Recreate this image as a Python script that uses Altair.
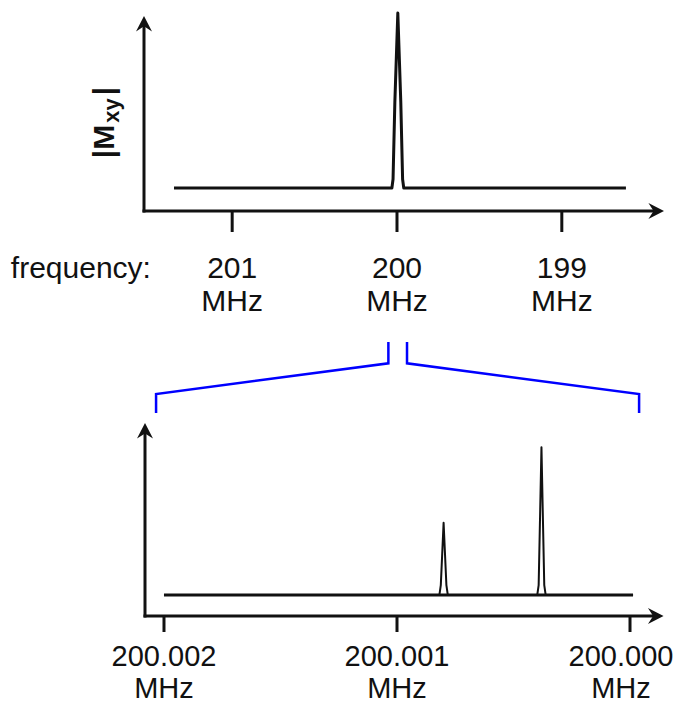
import altair as alt
import pandas as pd

# ---------------- data ----------------
# top spectrum (frequency in MHz, |Mxy| in arbitrary units)
top_freq = [201.353, 200.031, 200.024, 200.013, 199.995, 199.977, 199.966, 199.959, 198.611]
top_mxy = [0.116, 0.116, 0.16, 0.55, 1.0, 0.55, 0.16, 0.116, 0.116]
top_ticks = [201.0, 200.0, 199.0]
top_tick_labels = ["201\nMHz", "200\nMHz", "199\nMHz"]

# bottom (zoomed) spectrum
bot_freq = [200.002, 200.000818, 200.000812, 200.0008, 200.000788, 200.000782,
            200.000398, 200.000392, 200.00038, 200.000368, 200.000362, 199.999987]
bot_mxy = [0.109, 0.109, 0.16, 0.483, 0.16, 0.109,
           0.109, 0.16, 0.874, 0.16, 0.109, 0.109]
bot_ticks = [200.002, 200.001, 200.000]
bot_tick_labels = ["200.002\nMHz", "200.001\nMHz", "200.000\nMHz"]

# blue zoom bracket (in bottom-panel coordinates)
bracket_side = ["L", "L", "L", "L", "R", "R", "R", "R"]
bracket_order = [0, 1, 2, 3, 0, 1, 2, 3]
bracket_freq = [200.001037, 200.001037, 200.002034, 200.002034,
                200.000957, 200.000957, 199.999961, 199.999961]
bracket_y = [1.42, 1.309, 1.150, 1.052, 1.42, 1.309, 1.150, 1.052]

FONT = "Liberation Sans"
BLACK = "#111111"

UP = "M0,0L-1,1.95L0,1.3L1,1.95Z"
RIGHT = "M0,0L-1.95,-1L-1.3,0L-1.95,1Z"


def panel(xdom, ydom, axis_x0, axis_x_end, arrow_x, yaxis_top, arrow_y,
          spec_f, spec_v, ticks, tick_labels, tick_y2, label_y, height,
          font_size, line_height, label_dx, extra_layers_fn=None, thin_peaks=False):
    xs = alt.Scale(domain=xdom, reverse=True, zero=False, nice=False)
    ys = alt.Scale(domain=ydom, zero=False, nice=False)

    def X(f):
        return alt.X(f, type="quantitative", scale=xs, axis=None)

    def X2(f):
        return alt.X2(f)

    def Y(f):
        return alt.Y(f, type="quantitative", scale=ys, axis=None)

    layers = []
    # axes lines
    ax = pd.DataFrame({"x": [axis_x0], "x2": [axis_x_end], "y": [0.0], "y2": [0.0]})
    layers.append(alt.Chart(ax).mark_rule(color=BLACK, strokeWidth=3, strokeCap="square")
                  .encode(x=X("x"), x2=X2("x2"), y=Y("y")))
    ay = pd.DataFrame({"x": [axis_x0], "y": [0.0], "y2": [yaxis_top]})
    layers.append(alt.Chart(ay).mark_rule(color=BLACK, strokeWidth=3, strokeCap="square")
                  .encode(x=X("x"), y=Y("y"), y2=alt.Y2("y2")))
    # arrow heads
    layers.append(alt.Chart(pd.DataFrame({"x": [axis_x0], "y": [arrow_y]}))
                  .mark_point(shape=UP, size=256, filled=True, color=BLACK, opacity=1, strokeWidth=0)
                  .encode(x=X("x"), y=Y("y")))
    layers.append(alt.Chart(pd.DataFrame({"x": [arrow_x], "y": [0.0]}))
                  .mark_point(shape=RIGHT, size=256, filled=True, color=BLACK, opacity=1, strokeWidth=0)
                  .encode(x=X("x"), y=Y("y")))
    # ticks
    tk = pd.DataFrame({"x": ticks, "y": [0.0] * len(ticks), "y2": [tick_y2] * len(ticks)})
    layers.append(alt.Chart(tk).mark_rule(color=BLACK, strokeWidth=3)
                  .encode(x=X("x"), y=Y("y"), y2=alt.Y2("y2")))
    # tick labels (two lines each)
    for t, lab, dx in zip(ticks, tick_labels, label_dx):
        lb = pd.DataFrame({"x": [t], "ly": [label_y], "lab": [lab]})
        layers.append(alt.Chart(lb).mark_text(font=FONT, fontSize=font_size, color=BLACK,
                                              align="center", baseline="alphabetic",
                                              lineBreak="\n", lineHeight=line_height, dx=dx)
                      .encode(x=X("x"), y=Y("ly"), text="lab:N"))
    # spectrum
    sp = pd.DataFrame({"f": spec_f, "v": spec_v})
    layers.append(alt.Chart(sp).mark_line(color=BLACK, strokeWidth=2 if thin_peaks else 3,
                                          strokeJoin="round")
                  .encode(x=X("f"), y=Y("v")))
    if thin_peaks:
        base = pd.DataFrame({"x": [spec_f[0]], "x2": [spec_f[-1]], "y": [spec_v[0]]})
        layers.append(alt.Chart(base).mark_rule(color=BLACK, strokeWidth=3)
                      .encode(x=X("x"), x2=X2("x2"), y=Y("y")))
    if extra_layers_fn is not None:
        layers += extra_layers_fn(X, Y)
    return alt.layer(*layers).properties(width=520, height=height)


def top_extra(X, Y):
    out = []
    freq = pd.DataFrame({"x": [202.343], "y": [-0.338], "t": ["frequency:"]})
    out.append(alt.Chart(freq).mark_text(font=FONT, fontSize=30, color=BLACK, align="left",
                                         baseline="alphabetic")
               .encode(x=X("x"), y=Y("y"), text="t:N"))
    t1 = pd.DataFrame({"x": [201.717], "y": [0.351], "t": ["|M"]})
    out.append(alt.Chart(t1).mark_text(font=FONT, fontSize=30, fontWeight="bold", color=BLACK,
                                       angle=270, align="center", baseline="alphabetic")
               .encode(x=X("x"), y=Y("y"), text="t:N"))
    t2 = pd.DataFrame({"x": [201.687], "y": [0.508], "t": ["xy"]})
    out.append(alt.Chart(t2).mark_text(font=FONT, fontSize=22, fontWeight="bold", color=BLACK,
                                       angle=270, align="center", baseline="alphabetic")
               .encode(x=X("x"), y=Y("y"), text="t:N"))
    t3 = pd.DataFrame({"x": [201.717], "y": [0.606], "t": ["|"]})
    out.append(alt.Chart(t3).mark_text(font=FONT, fontSize=30, fontWeight="bold", color=BLACK,
                                       angle=270, align="center", baseline="alphabetic")
               .encode(x=X("x"), y=Y("y"), text="t:N"))
    return out


def bot_extra(X, Y):
    br = pd.DataFrame({"side": bracket_side, "o": bracket_order,
                       "f": bracket_freq, "v": bracket_y})
    return [alt.Chart(br).mark_line(color="#0000ff", strokeWidth=2.5, strokeJoin="miter")
            .encode(x=X("f"), y=Y("v"), detail="side:N", order="o:Q")]


top = panel(xdom=[198.38, 201.535], ydom=[0, 1], axis_x0=201.535, axis_x_end=198.42,
            arrow_x=198.38, yaxis_top=0.95, arrow_y=0.985,
            spec_f=top_freq, spec_v=top_mxy, ticks=top_ticks, tick_labels=top_tick_labels,
            tick_y2=-0.106, label_y=-0.338, height=198, font_size=30, line_height=33,
            label_dx=[0, 0, 0], extra_layers_fn=top_extra)

bottom = panel(xdom=[199.9998541, 200.0020858], ydom=[0, 1], axis_x0=200.0020815,
               axis_x_end=199.99988, arrow_x=199.999856, yaxis_top=0.96, arrow_y=1.0,
               spec_f=bot_freq, spec_v=bot_mxy, ticks=bot_ticks, tick_labels=bot_tick_labels,
               tick_y2=-0.083, label_y=-0.259, height=193, font_size=29, line_height=32,
               label_dx=[0, 0, -9], extra_layers_fn=bot_extra, thin_peaks=True)

chart = alt.vconcat(top, bottom, spacing=212, bounds="flush").properties(
    padding={"left": 2, "top": 3, "right": 0, "bottom": 0}
).configure_view(stroke=None)

chart.save("out.html", embed_options={"renderer": "svg", "actions": False})
